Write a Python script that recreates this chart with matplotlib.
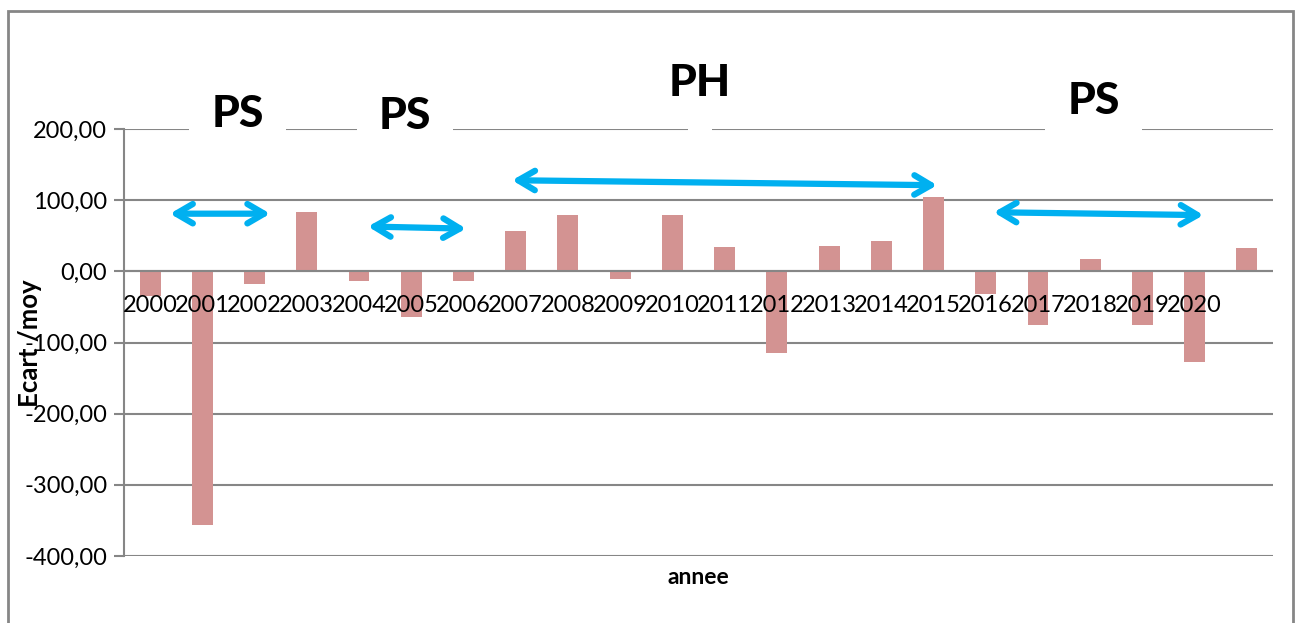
import matplotlib
matplotlib.use("Agg")
import matplotlib.pyplot as plt
from matplotlib.patches import Rectangle

# data
annees = [str(a) for a in range(2000, 2021)]
ecarts = [-35, -356, -18, 83, -13, -64, -13, 56, 79, -11, 79, 34, -115,
          35, 42, 105, -32, -76, 17, -75, -127, 33]
yticks = [200, 100, 0, -100, -200, -300, -400]

# periodes (seche / humide) : fleche de x0 a x1, texte en (texte_x, texte_y)
periodes = ["PS", "PS", "PH", "PS"]
fleche_x0 = [0.38, 4.17, 6.93, 16.15]
fleche_x1 = [2.30, 6.05, 15.07, 20.17]
fleche_y0 = [81, 63, 128, 83]
fleche_y1 = [81, 60, 121, 79]
texte_x = [1.68, 4.88, 10.53, 18.06]
texte_y = [221, 218, 265, 240]

plt.rcParams['font.family'] = ['Lato', 'DejaVu Sans']

fig = plt.figure(figsize=(12.95, 6.23), dpi=100)
ax = fig.add_axes([124 / 1295, 1 - 556 / 623, (1273 - 124) / 1295, (556 - 129) / 623])

x = list(range(len(ecarts)))
ax.bar(x, ecarts, width=0.4, color="#D39392", zorder=3)

ax.set_xlim(-0.5, len(ecarts) - 0.5)
ax.set_ylim(-400, 200)
ax.set_yticks(yticks)
ax.set_yticklabels([("%.2f" % v).replace(".", ",") for v in yticks], fontsize=17)
ax.tick_params(axis="y", length=7, width=1.5, color="#868686", pad=5)
ax.grid(axis="y", color="#868686", linewidth=1.5, zorder=0)
ax.axhline(0, color="#868686", linewidth=1.5, zorder=4)

ax.set_xticks([])
for i, a in enumerate(annees):
    ax.text(i, -48, a, ha="center", va="center", fontsize=17, zorder=6)

for s in ["top", "right", "bottom"]:
    ax.spines[s].set_visible(False)
ax.spines["left"].set_color("#868686")
ax.spines["left"].set_linewidth(1.5)

ax.set_xlabel("annee", fontsize=16.5, fontweight="bold", labelpad=8)
fig.text(30 / 1295, 1 - 343 / 623, "Ecart /moy", rotation=90, ha="center", va="center",
         fontsize=18.5, fontweight="bold", zorder=10)

# fleches et etiquettes des periodes
for i, p in enumerate(periodes):
    ax.annotate("", xy=(fleche_x1[i], fleche_y1[i]), xytext=(fleche_x0[i], fleche_y0[i]),
                arrowprops=dict(arrowstyle="<->,head_length=1.2,head_width=0.7",
                                color="#00B0F0", lw=4.5, shrinkA=0, shrinkB=0),
                zorder=7, annotation_clip=False)
    if p == "PH":
        ax.text(texte_x[i], texte_y[i], p, ha="center", va="center", fontsize=32,
                fontweight="black", zorder=8, clip_on=False)
        ax.add_patch(Rectangle((10.29, 190), 0.46, 20, facecolor="white",
                               edgecolor="none", zorder=5, clip_on=False))
    else:
        ax.text(texte_x[i], texte_y[i], p, ha="center", va="center", fontsize=32,
                fontweight="black", zorder=8, clip_on=False,
                bbox=dict(boxstyle="square,pad=0.5", facecolor="white", edgecolor="none"))

# cadre du graphique
fig.patches.append(Rectangle((8 / 1295, -0.1), (1293 - 8) / 1295, 1.1 - 11 / 623,
                             transform=fig.transFigure, fill=False,
                             edgecolor="#868686", linewidth=2))

fig.savefig("out.png", dpi=100)
